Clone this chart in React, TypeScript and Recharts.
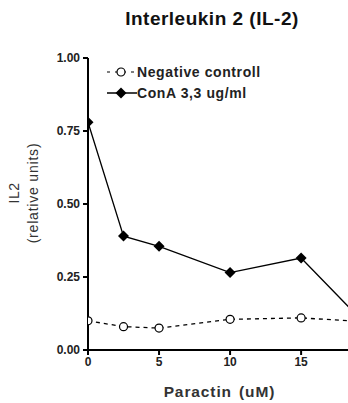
import { LineChart, Line, XAxis, YAxis } from 'recharts';

const paractin = [0, 2.5, 5, 10, 15, 20];
const negativeControl = [0.1, 0.08, 0.075, 0.105, 0.11, 0.095];
const conA = [0.78, 0.39, 0.355, 0.265, 0.315, 0.065];
const yTicks = [0, 0.25, 0.5, 0.75, 1];
const xTicks = [0, 5, 10, 15];

const data = paractin.map((x, i) => ({ x, neg: negativeControl[i], cona: conA[i] }));

const font = 'Arial, "Liberation Sans", sans-serif';

const Diamond = (props: any) => {
  const { cx, cy } = props;
  if (cx == null || cy == null) return null;
  const r = 5.5;
  return <path d={`M${cx},${cy - r}L${cx + r},${cy}L${cx},${cy + r}L${cx - r},${cy}Z`} fill="#000" />;
};

const Circle = (props: any) => {
  const { cx, cy } = props;
  if (cx == null || cy == null) return null;
  return <circle cx={cx} cy={cy} r={4} fill="#fff" stroke="#000" strokeWidth={1.2} />;
};

// legend drawn by hand, sits inside the plot area top-left
const LegendBox = () => (
  <svg width={220} height={40} style={{ position: 'absolute', left: 105, top: 64, fontFamily: font }}>
    <line x1={2} y1={8} x2={30} y2={8} stroke="#000" strokeWidth={1.2} strokeDasharray="3 5" />
    <circle cx={16} cy={8} r={4} fill="#fff" stroke="#000" strokeWidth={1.2} />
    <text x={32} y={13} fontSize={14} letterSpacing={0.6} fontWeight="bold" fill="#222">Negative controll</text>
    <line x1={2} y1={29} x2={32} y2={29} stroke="#000" strokeWidth={1.5} />
    <path d="M16,23.5L21.5,29L16,34.5L10.5,29Z" fill="#000" />
    <text x={32} y={34} fontSize={14} letterSpacing={0.6} fontWeight="bold" fill="#222">ConA 3,3 ug/ml</text>
  </svg>
);

const YLabel = () => (
  <g fontFamily={font} fill="#333" fontSize={14}>
    <text transform="translate(19,193) rotate(-90)" textAnchor="middle" letterSpacing={0.5}>IL2</text>
    <text transform="translate(38,193) rotate(-90)" textAnchor="middle" letterSpacing={0.8}>(relative units)</text>
  </g>
);

const XLabel = () => (
  <g fontFamily={font} fill="#333" fontSize={15.5} fontWeight="bold" letterSpacing={0.9}>
    <text x={232} y={397} textAnchor="end">Paractin</text>
    <text x={239} y={397}>(uM)</text>
  </g>
);

export default function App() {
  return (
    <div style={{ position: 'absolute', left: 0, top: 0, width: 348, height: 403, background: '#fff' }}>
      <div
        style={{
          position: 'absolute',
          left: 0,
          width: 348,
          top: 6,
          paddingLeft: 76,
          boxSizing: 'border-box',
          textAlign: 'center',
          fontFamily: font,
          fontWeight: 'bold',
          fontSize: 19,
          lineHeight: '26px',
          letterSpacing: 0.5,
          color: '#111',
        }}
      >
        Interleukin 2 (IL-2)
      </div>
      <LineChart
        width={348}
        height={403}
        data={data}
        margin={{ top: 58, right: 0, bottom: 0, left: 0 }}
        style={{ position: 'absolute', left: 0, top: 0 }}
      >
        <XAxis
          dataKey="x"
          type="number"
          domain={[0, 18.3]}
          allowDataOverflow
          ticks={xTicks}
          height={53}
          stroke="#000"
          strokeWidth={2}
          tickSize={5}
          tickMargin={2}
          tick={{ fill: '#222', fontSize: 12, fontWeight: 'bold', fontFamily: font }}
          label={{ content: () => <XLabel /> }}
        />
        <YAxis
          type="number"
          domain={[0, 1]}
          ticks={yTicks}
          width={88}
          stroke="#000"
          strokeWidth={2}
          tickSize={5}
          tickMargin={3}
          tickFormatter={(v: number) => v.toFixed(2)}
          tick={{ fill: '#222', fontSize: 12, fontWeight: 'bold', fontFamily: font }}
          label={{ content: () => <YLabel /> }}
        />
        <Line
          dataKey="neg"
          stroke="#000"
          strokeWidth={1.3}
          strokeDasharray="4 4"
          dot={<Circle />}
          activeDot={false}
          isAnimationActive={false}
        />
        <Line
          dataKey="cona"
          stroke="#000"
          strokeWidth={1.3}
          dot={<Diamond />}
          activeDot={false}
          isAnimationActive={false}
        />
      </LineChart>
      <LegendBox />
    </div>
  );
}
